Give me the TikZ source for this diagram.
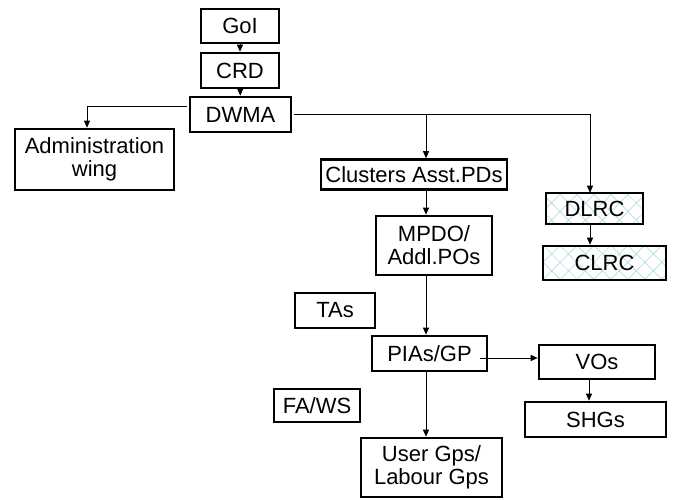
\documentclass[tikz,border=0pt]{standalone}
\usepackage{fontspec}
\setmainfont{Liberation Sans}
\usetikzlibrary{arrows.meta,patterns.meta}
\definecolor{hatchcyan}{RGB}{160,212,218}
\tikzset{
  box/.style={draw=black, line width=2.6pt, fill=white, inner sep=0pt, align=center,
    font=\fontsize{22}{23}\selectfont},
  hatchbox/.style={box, pattern={Hatch[angle=45,distance=12pt,line width=0.5pt]}, pattern color=hatchcyan},
  arr/.style={line width=0.8pt, -{Triangle[length=7pt,width=6pt]}}
}

\begin{document}
\begin{tikzpicture}[x=1pt,y=-1pt]
			%%%%% START %%%%%
			\useasboundingbox (0,0) rectangle (678,500);
			\coordinate (sp) at (426,0);
			
			% top of the chain
			\node[box, minimum width=78, minimum height=34] (goi) at (240,26) {GoI};
			\node[box, minimum width=78, minimum height=35] (crd) at (240,70.5) {CRD};
			\node[box, minimum width=101, minimum height=35] (dwma) at (240.5,114.5) {DWMA};
			\node[box, minimum width=159, minimum height=61] (admin) at (94.5,159.5) {Administration\\wing};
			
			% main column
			\node[box, minimum width=186, minimum height=30] (clusters) at (414,174.5) {Clusters Asst.PDs};
			\node[box, minimum width=116, minimum height=59] (mpdo) at (434,245.5) {MPDO/\\Addl.POs};
			\node[box, minimum width=115, minimum height=35] (pias) at (429.5,353.5) {PIAs/GP};
			\node[box, minimum width=141, minimum height=59] (users) at (431.5,467.5) {User Gps/\\Labour Gps};
			
			% side boxes
			\node[box, minimum width=80, minimum height=35] (tas) at (335,310.5) {TAs};
			\node[box, minimum width=86, minimum height=33] (faws) at (317,405.5) {FA/WS};
			
			\node[hatchbox, minimum width=97, minimum height=31] (dlrc) at (594.5,208.5) {DLRC};
			\node[hatchbox, minimum width=123, minimum height=34] (clrc) at (604.5,263) {CLRC};
			
			\node[box, minimum width=116, minimum height=34] (vos) at (597,362) {VOs};
			\node[box, minimum width=141, minimum height=35] (shgs) at (595.5,419.5) {SHGs};
			
			% connectors
			\draw[arr] (goi) -- (crd);
			\draw[arr] (crd) -- (dwma);
			\draw[arr] ([shift={(-2,-8.5)}]dwma.west) -| ([xshift=-7.5pt]admin.north);
			\draw[line width=0.8pt] ([xshift=2pt]dwma.east) -- (dwma.east -| sp);
			\draw[arr] (dwma.east -| sp) -- (clusters.north -| sp);
			\draw[arr] (dwma.east -| sp) -| ([xshift=-4.5pt]dlrc.north);
			\draw[arr] ([xshift=-4.5pt]dlrc.south) -- ([xshift=-4.5pt]dlrc.south |- clrc.north);
			
			\draw[arr] (clusters.south -| sp) -- (mpdo.north -| sp);
			\draw[arr] (mpdo.south -| sp) -- (pias.north -| sp);
			\draw[arr] (pias.south -| sp) -- (users.north -| sp);
			\draw[arr] ([shift={(-8,4.5)}]pias.east) -- ([yshift=-4.5pt]pias.east -| vos.west);
			\draw[arr] ([xshift=-8pt]vos.south) -- ([xshift=-8pt]vos.south |- shgs.north);
			
			%%%%% END %%%%%
		\end{tikzpicture}
\end{document}
